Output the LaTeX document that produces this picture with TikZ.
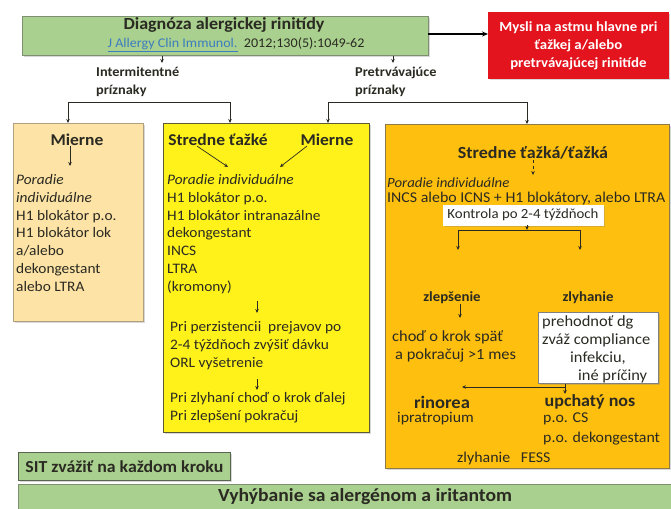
\documentclass[tikz,border=0pt]{standalone}
\usepackage{fontspec}
\setmainfont{Carlito}[FakeStretch=1.06]
\usetikzlibrary{arrows.meta,shadows}
\definecolor{grn}{HTML}{A9D08E}
\definecolor{grnb}{HTML}{7E8F72}
\definecolor{redbox}{HTML}{E3141E}
\definecolor{lbox}{HTML}{FDE3A5}
\definecolor{lboxb}{HTML}{B0A080}
\definecolor{ybox}{HTML}{FFF21A}
\definecolor{yboxb}{HTML}{5E5A35}
\definecolor{obox}{HTML}{FFBF0F}
\definecolor{oboxb}{HTML}{8E7A48}
\definecolor{ink}{HTML}{2A2A22}
\definecolor{link}{HTML}{3C7DC0}
\begin{document}
\begin{tikzpicture}[x=1pt,y=-1pt,
  box/.style={draw, rectangle, inner sep=0pt, line width=0.8pt,
    drop shadow={shadow xshift=1.5pt, shadow yshift=-1.5pt, opacity=0.3}},
  txt/.style={inner sep=0pt, text=ink, font=\fontsize{14.5}{17.8}\selectfont},
  blk/.style={txt, align=left, anchor=base west},
  otx/.style={blk, font=\fontsize{15}{20}\selectfont},
  hd/.style={txt, font=\bfseries\fontsize{16.5}{20}\selectfont},
  hds/.style={txt, font=\bfseries\fontsize{14}{18}\selectfont},
  arr/.style={draw=ink, line width=0.7pt, -{Stealth[length=4pt,width=3.5pt]}},
  ln/.style={draw=ink, line width=0.7pt}]
\clip (0,0) rectangle (671,508);
\fill[white] (0,0) rectangle (671,508);

% top row
\node[box, fill=grn, draw=grnb, minimum width=406, minimum height=39, anchor=north west] (diag) at (22,16) {};
\node[txt, font=\bfseries\fontsize{17}{20}\selectfont] (title) at (224,25) {Diagnóza alergickej rinitídy};
\node[txt, font=\fontsize{13.3}{16}\selectfont] (ref) at (236,45) {\textcolor{link}{\underline{J Allergy Clin Immunol.}}\ \ 2012;130(5):1049-62};
\node[box, fill=redbox, draw=redbox, minimum width=180, minimum height=66, anchor=north west,
  text=white, align=center, font=\bfseries\fontsize{14}{18}\selectfont] (asthma) at (488,12)
  {Mysli na astmu hlavne pri\\ťažkej a/alebo\\pretrvávajúcej rinitíde};
\coordinate (aj) at (428,34);
\draw[draw=black, line width=1.6pt, -{Stealth[length=6pt,width=5pt]}] (aj) -- (aj -| asthma.west);

% stubs and labels
\coordinate (s1) at (162,63);
\coordinate (s2) at (393,63);
\draw[arr] (diag.south -| s1) -- (s1);
\draw[arr] (diag.south -| s2) -- (s2);
\node[blk, font=\bfseries\fontsize{13.5}{18}\selectfont] (intl) at (96,94.5) {Intermitentné\\príznaky};
\node[blk, font=\bfseries\fontsize{13.5}{18}\selectfont] (perl) at (355,94.5) {Pretrvávajúce\\príznaky};

% boxes
\node[box, fill=lbox, draw=lboxb, minimum width=130, minimum height=198, anchor=north west] (lb) at (13,123) {};
\node[box, fill=ybox, draw=yboxb, line width=1.4pt, minimum width=206, minimum height=309, anchor=north west] (yb) at (163,123) {};
\node[box, fill=obox, draw=oboxb, minimum width=284, minimum height=344, anchor=north west] (ob) at (385,124) {};

% brackets
\coordinate (bl) at (68,102);
\coordinate (br) at (230,102);
\coordinate (cl) at (328,102);
\coordinate (cr) at (527,102);
\draw[ln] (bl) -- (br);
\draw[arr] (bl) -- (bl |- lb.north);
\draw[arr] (br) -- (br |- yb.north);
\draw[ln] (cl) -- (cr);
\draw[arr] (cl) -- (cl |- yb.north);
\draw[arr] (cr) -- (cr |- ob.north);

% left box content
\node[hd] (lm) at (77,140) {Mierne};
\coordinate (lma) at (70,166);
\draw[arr] (lm.south -| lma) -- (lma);
\node[blk] (ltx) at (16,291.3) {\textit{Poradie}\\\textit{individuálne}\\H1 blokátor p.o.\\H1 blokátor lok\\a/alebo\\dekongestant\\alebo LTRA};

% yellow box content
\node[hd] (ys) at (218,140) {Stredne ťažké};
\node[hd] (ym) at (327,140) {Mierne};
\coordinate (ya1) at (228,167);
\coordinate (ya2) at (280,167);
\draw[arr] ([xshift=-21pt]ys.south) -- (ya1);
\draw[arr] ([xshift=-20pt]ym.south) -- (ya2);
\node[blk] (ytx1) at (167,291.3) {\textit{Poradie individuálne}\\H1 blokátor p.o.\\H1 blokátor intranazálne\\dekongestant\\INCS\\LTRA\\(kromony)};
\node[blk] (ytx2) at (170,367.1) {Pri perzistencii\ \ prejavov po\\2-4 týždňoch zvýšiť dávku\\ORL vyšetrenie};
\node[blk] (ytx3) at (170,420.3) {Pri zlyhaní choď o krok ďalej\\Pri zlepšení pokračuj};
\coordinate (yb1) at (257,301);
\coordinate (yb1e) at (257,313);
\coordinate (yb2) at (257,379);
\coordinate (yb2e) at (257,390);
\draw[arr] (yb1) -- (yb1e);
\draw[arr] (yb2) -- (yb2e);

% orange box content
\node[hd, font=\bfseries\fontsize{17}{20}\selectfont] (oh) at (533,153) {Stredne ťažká/ťažká};
\coordinate (oha) at (533,175);
\draw[arr, dashed] (oh.south -| oha) -- (oha);
\node[blk, font=\itshape\fontsize{14}{16}\selectfont] (opi) at (387,187.5) {Poradie individuálne};
\node[blk, font=\fontsize{15}{16}\selectfont] (oinc) at (387,202) {INCS alebo ICNS + H1 blokátory, alebo LTRA};
\node[box, fill=white, draw=white, minimum width=160, minimum height=20, txt, font=\fontsize{14}{16}\selectfont] (kb) at (523,215) {Kontrola po 2-4 týždňoch};
\coordinate (kj) at (527,230);
\coordinate (kl) at (458,230);
\coordinate (kr) at (580,230);
\coordinate (kle) at (458,250);
\coordinate (kre) at (580,250);
\draw[arr] (kb.south -| kj) -- (kj);
\draw[ln] (kl) -- (kr);
\draw[arr] (kl) -- (kle);
\draw[arr] (kr) -- (kre);

\node[hds] (zl) at (452,298) {zlepšenie};
\node[hds] (zy) at (588,298) {zlyhanie};
\coordinate (zla) at (460,318);
\draw[arr] (zl.south -| zla) -- (zla);
\node[otx, font=\fontsize{15.5}{18}\selectfont] (ztx) at (392,359.5) {choď o krok späť\\\hspace{3pt}a pokračuj >1 mes};

\node[box, fill=white, draw=gray, line width=0.6pt, minimum width=120, minimum height=71, anchor=north west] (zb) at (538,312) {};
\node[otx, font=\fontsize{15.5}{18}\selectfont] (zbt) at (542,380.5) {prehodnoť dg\\zváž compliance\\\hspace{28pt}infekciu,\\\hspace{36pt}iné príčiny};
\coordinate (zs) at (565,387);
\coordinate (zle) at (462,387);
\coordinate (zde) at (565,394);
\draw[ln] (zb.south -| zs) -- (zs);
\draw[arr] (zs) -- (zle);
\draw[arr] (zs) -- (zde);

\node[hd, font=\bfseries\fontsize{17.5}{20}\selectfont] (rin) at (442,402) {rinorea};
\node[hd, font=\bfseries\fontsize{17}{20}\selectfont] (upn) at (590,402) {upchatý nos};
\node[otx] (ipr) at (397,422.5) {ipratropium};
\node[otx] (poc) at (543,442.5) {p.o. CS\\p.o. dekongestant};
\node[otx] (fess) at (457,462) {zlyhanie\ \ \ FESS};

% bottom
\node[box, fill=grn, draw=grnb!70!black, minimum width=212, minimum height=28, anchor=north west,
  txt, font=\bfseries\fontsize{16.8}{18}\selectfont] (sit) at (18,452) {SIT zvážiť na každom kroku};
\node[box, fill=grn, draw=grnb, minimum width=660, minimum height=34, anchor=north west] (avoid) at (18,484) {};
\node[txt, font=\bfseries\fontsize{18.5}{20}\selectfont] (avt) at (365,497) {Vyhýbanie sa alergénom a iritantom};
\end{tikzpicture}
\end{document}
